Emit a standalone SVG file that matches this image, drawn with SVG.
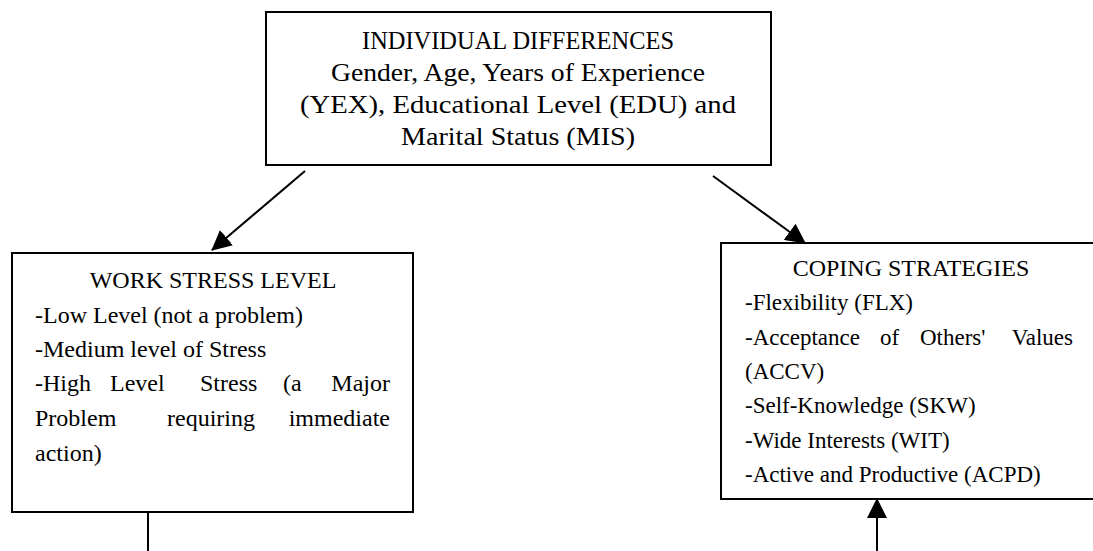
<svg xmlns="http://www.w3.org/2000/svg" width="1093" height="551" viewBox="0 0 1093 551">
<defs>
<style>
.box{fill:#fff;stroke:#000;stroke-width:2}
.t{font-family:"Liberation Serif","Times New Roman",serif;font-size:24px;fill:#000}
.big{font-size:26px}
.sm{font-size:23px}
.c{text-anchor:middle}
.e{text-anchor:end}
.conn{stroke:#000;stroke-width:2;fill:none}
</style>
<marker id="ah" viewBox="0 0 20 20" refX="19" refY="10" markerWidth="20" markerHeight="20" markerUnits="userSpaceOnUse" orient="auto"><path d="M0,0 L20,10 L0,20 z" fill="#000"/></marker>
</defs>
<rect width="1093" height="551" fill="#fff"/>
<g id="individual-differences">
<rect class="box" x="266" y="12" width="505" height="153"/>
<text class="t big c" x="518" y="49" textLength="312" lengthAdjust="spacingAndGlyphs">INDIVIDUAL DIFFERENCES</text>
<text class="t big c" x="518" y="81" textLength="374" lengthAdjust="spacingAndGlyphs">Gender, Age, Years of Experience</text>
<text class="t big c" x="518" y="113" textLength="436" lengthAdjust="spacingAndGlyphs">(YEX), Educational Level (EDU) and</text>
<text class="t big c" x="518" y="145" textLength="234" lengthAdjust="spacingAndGlyphs">Marital Status (MIS)</text>
</g>
<g id="work-stress-level">
<rect class="box" x="12" y="253" width="401" height="259"/>
<text class="t c" x="213" y="288">WORK STRESS LEVEL</text>
<text class="t" x="35" y="323">-Low Level (not a problem)</text>
<text class="t" x="35" y="357">-Medium level of Stress</text>
<text class="t" y="391"><tspan x="35">-High</tspan><tspan x="110">Level</tspan><tspan x="200">Stress</tspan><tspan x="283">(a</tspan></text>
<text class="t e" x="390" y="391">Major</text>
<text class="t" y="426"><tspan x="35">Problem</tspan><tspan x="167">requiring</tspan></text>
<text class="t e" x="390" y="426">immediate</text>
<text class="t" x="35" y="461">action)</text>
</g>
<g id="coping-strategies">
<rect class="box" x="721" y="243" width="400" height="256"/>
<text class="t c" x="911" y="276">COPING STRATEGIES</text>
<text class="t sm" x="745" y="310">-Flexibility (FLX)</text>
<text class="t sm" y="345"><tspan x="745">-Acceptance</tspan><tspan x="880">of</tspan><tspan x="920">Others'</tspan></text>
<text class="t sm e" x="1073" y="345">Values</text>
<text class="t sm" x="745" y="379">(ACCV)</text>
<text class="t sm" x="745" y="413">-Self-Knowledge (SKW)</text>
<text class="t sm" x="745" y="448">-Wide Interests (WIT)</text>
<text class="t sm" x="745" y="482">-Active and Productive (ACPD)</text>
</g>
<g id="connectors">
<line class="conn" x1="305" y1="171" x2="212" y2="250" marker-end="url(#ah)"/>
<line class="conn" x1="713" y1="176" x2="805" y2="243" marker-end="url(#ah)"/>
<line class="conn" x1="148" y1="512" x2="148" y2="551"/>
<line class="conn" x1="877" y1="551" x2="877" y2="499" marker-end="url(#ah)"/>
</g>
</svg>
